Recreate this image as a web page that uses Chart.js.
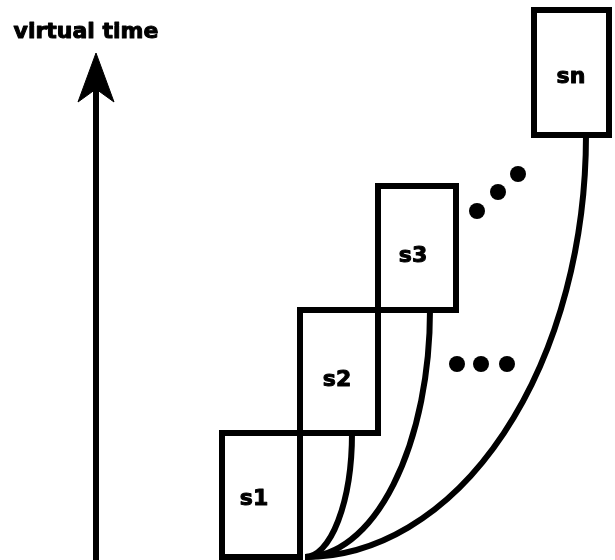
<!DOCTYPE html>
<html lang="en">
<head>
    <meta charset="UTF-8">
    <title>Virtual time sessions</title>
    <script src="https://cdn.jsdelivr.net/npm/chart.js"></script>
    <style>
        body {
            margin: 0;
            padding: 0;
            background: #fff;
        }

        .diagram-container {
            width: 615px;
            height: 560px;
            position: relative;
        }
    </style>
</head>
<body>
    <div class="diagram-container">
        <canvas id="sessionChart"></canvas>
    </div>

    <script>
        // Sessions (x = column, y = virtual time, y grows upwards)
        const sessionNames = ['s1', 's2', 's3', 'sn'];
        const sessionLeft = [222, 300, 378, 534];
        const sessionRight = [300, 378, 456, 609];
        const sessionStart = [3, 127, 250, 425];
        const sessionEnd = [127, 250, 374, 550];
        const labelX = [254, 337, 413, 571];
        const labelY = [61, 180, 304, 483];

        // Curves all leave from one point and reach the bottom of s2, s3, sn
        const curveStartX = 305;
        const curveStartY = 3;
        const curveEndX = [352, 430, 586];
        const curveEndY = [127, 250, 425];

        // Ellipsis dots
        const dotsDiagX = [477, 498, 518];
        const dotsDiagY = [349, 368, 386];
        const dotsRowX = [457, 481, 507];
        const dotsRowY = [196, 196, 196];

        // Virtual time axis
        const axisX = 96;
        const axisBase = 0;
        const axisTip = 507;
        const axisTitle = 'virtual time';
        const axisTitleX = 86;
        const axisTitleY = 528;

        const headLength = 49;
        const headHalfWidth = 18;
        const headNotch = 36;
        const strokeWidth = 6;

        function boxDataset(i) {
            const l = sessionLeft[i], r = sessionRight[i];
            const b = sessionStart[i], t = sessionEnd[i];
            return {
                label: sessionNames[i],
                data: [{x: l, y: b}, {x: l, y: t}, {x: r, y: t}, {x: r, y: b}, {x: l, y: b}],
                showLine: true,
                borderColor: '#000',
                borderWidth: strokeWidth,
                borderJoinStyle: 'miter',
                borderCapStyle: 'square',
                pointRadius: 0,
                fill: false
            };
        }

        const datasets = sessionNames.map((_, i) => boxDataset(i));

        // axis shaft
        datasets.push({
            label: 'axis',
            data: [{x: axisX, y: axisBase}, {x: axisX, y: axisTip - headNotch}],
            showLine: true,
            borderColor: '#000',
            borderWidth: strokeWidth,
            pointRadius: 0
        });

        // arrow head
        datasets.push({
            label: 'head',
            data: [
                {x: axisX, y: axisTip},
                {x: axisX + headHalfWidth, y: axisTip - headLength},
                {x: axisX, y: axisTip - headNotch},
                {x: axisX - headHalfWidth, y: axisTip - headLength},
                {x: axisX, y: axisTip}
            ],
            showLine: true,
            borderColor: '#000',
            backgroundColor: '#000',
            borderWidth: 1,
            pointRadius: 0,
            fill: 'shape'
        });

        // dots
        datasets.push({
            label: 'dots',
            data: dotsDiagX.map((x, i) => ({x: x, y: dotsDiagY[i]}))
                .concat(dotsRowX.map((x, i) => ({x: x, y: dotsRowY[i]}))),
            showLine: false,
            pointRadius: 8,
            pointBorderWidth: 0,
            pointBackgroundColor: '#000'
        });

        // curves and texts go on top
        const overlayPlugin = {
            id: 'overlay',
            afterDatasetsDraw(chart) {
                const ctx = chart.ctx;
                const xs = chart.scales.x, ys = chart.scales.y;
                ctx.save();
                ctx.strokeStyle = '#000';
                ctx.lineWidth = strokeWidth;
                const ox = xs.getPixelForValue(curveStartX);
                const oy = ys.getPixelForValue(curveStartY);
                curveEndX.forEach((ex, i) => {
                    const px = xs.getPixelForValue(ex);
                    const py = ys.getPixelForValue(curveEndY[i]);
                    ctx.beginPath();
                    ctx.ellipse(ox, py, px - ox, oy - py, 0, 0, Math.PI / 2);
                    ctx.stroke();
                });

                // heavy text like the scanned original: fill plus a thin outline
                ctx.fillStyle = '#000';
                ctx.lineWidth = 1;
                ctx.lineJoin = 'round';
                ctx.textAlign = 'center';
                ctx.textBaseline = 'middle';
                ctx.font = 'bold 22px "DejaVu Sans"';
                sessionNames.forEach((name, i) => {
                    const tx = xs.getPixelForValue(labelX[i]);
                    const ty = ys.getPixelForValue(labelY[i]);
                    ctx.fillText(name, tx, ty);
                    ctx.strokeText(name, tx, ty);
                });
                const ax = xs.getPixelForValue(axisTitleX);
                const ay = ys.getPixelForValue(axisTitleY);
                ctx.fillText(axisTitle, ax, ay);
                ctx.strokeText(axisTitle, ax, ay);
                ctx.restore();
            }
        };

        document.addEventListener('DOMContentLoaded', () => {
            const ctx = document.getElementById('sessionChart').getContext('2d');
            new Chart(ctx, {
                type: 'scatter',
                data: { datasets: datasets },
                options: {
                    responsive: true,
                    maintainAspectRatio: false,
                    animation: false,
                    events: [],
                    layout: { padding: 0, autoPadding: false },
                    plugins: {
                        legend: { display: false },
                        tooltip: { enabled: false }
                    },
                    scales: {
                        x: { type: 'linear', min: 0, max: 615, display: false },
                        y: { type: 'linear', min: 0, max: 560, display: false }
                    }
                },
                plugins: [overlayPlugin]
            });
        });
    </script>
</body>
</html>
